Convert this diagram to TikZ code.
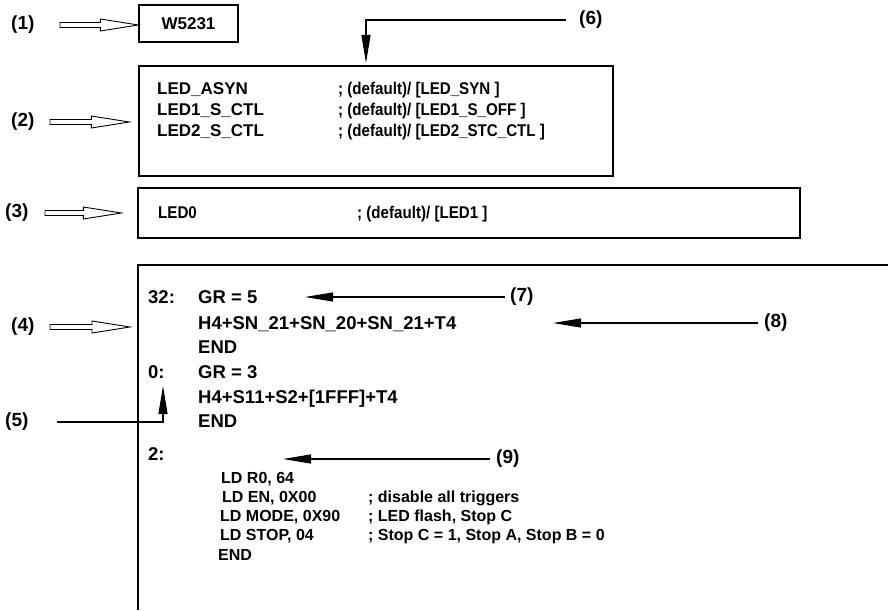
\documentclass[tikz,border=0pt]{standalone}
\usepackage{fontspec}
\setmainfont{Liberation Sans}
\newfontfamily\condensed[FakeStretch=0.89]{Liberation Sans}
\usetikzlibrary{arrows.meta,calc}

\newcommand{\dflt}{; (default)/ }
% hollow block arrow, horizontal, from tail #1 to tip #2
\newcommand{\openarrow}[2]{%
  \draw[line width=0.9pt, fill=white, line join=miter] let \p1=(#1), \p2=(#2) in
    (\x1,\y1+2.5pt) -- (\x2-38pt,\y1+2.5pt) -- (\x2-38pt,\y1+6pt) -- (\x2,\y1)
    -- (\x2-38pt,\y1-6pt) -- (\x2-38pt,\y1-2.5pt) -- (\x1,\y1-2.5pt) -- cycle;}

\begin{document}
\begin{tikzpicture}[x=1pt, y=-1pt, font=\fontsize{16}{19}\selectfont\bfseries,
  txt/.style={anchor=base west, inner sep=0pt},
  lbl/.style={anchor=west, inner sep=0pt, font=\fontsize{19}{22}\selectfont\bfseries},
  big/.style={font=\fontsize{18.5}{22}\selectfont\bfseries},
  key/.style={font=\fontsize{17}{20}\selectfont\bfseries},
  cond/.style={font=\condensed\fontsize{17}{20}\selectfont\bfseries},
  box/.style={draw, line width=1.3pt},
  pointer/.style={line width=1.1pt, -{Triangle[length=28pt,width=9pt]}}]
  \useasboundingbox (0,0) rectangle (888,610);

  % boxes
  \node[box, key, minimum width=99pt, minimum height=37pt] (w5231) at (188.5,23.5) {W5231};
  \node[box, minimum width=474pt, minimum height=110pt] (box2) at (376,121) {};
  \node[box, minimum width=662pt, minimum height=50pt] (box3) at (469,213) {};
  \coordinate (box4) at (138,265);
  \draw[box] (888,265) -- (box4) -- (138,610);

  % box 2 and 3 contents
  \foreach \y/\k/\c in {94/{LED\_ASYN}/{\dflt[LED\_SYN ]},
                        115/{LED1\_S\_CTL}/{\dflt[LED1\_S\_OFF ]},
                        136/{LED2\_S\_CTL}/{\dflt[LED2\_STC\_CTL ]}} {
    \node[txt, key] (k\y) at (157,\y) {\k};
    \node[txt, cond] (c\y) at (338,\y) {\c};
  }
  \node[txt, cond] (led0) at (158,218.5) {LED0};
  \node[txt, cond] (c218) at (357,218.5) {\dflt[LED1 ]};

  % box 4 contents
  \node[txt, big] (l32) at (148,303.5) {32:};
  \node[txt, big] (gr5) at (198,303.5) {GR = 5};
  \node[txt, big] (seq1) at (198,329.5) {H4+SN\_21+SN\_20+SN\_21+T4};
  \node[txt, big] (end1) at (198,353.5) {END};
  \node[txt, big] (l0) at (148,378.5) {0:};
  \node[txt, big] (gr3) at (198,378.5) {GR = 3};
  \node[txt, big] (seq2) at (198,403.5) {H4+S11+S2+[1FFF]+T4};
  \node[txt, big] (end2) at (198,427.5) {END};
  \node[txt, big] (l2) at (148,460.5) {2:};
  \foreach \x/\y/\t in {221/483/{LD R0, 64}, 222/502/{LD EN, 0X00},
                        220/521/{LD MODE, 0X90}, 220/540/{LD STOP, 04}, 218/560/END}
    \node[txt] (ld\y) at (\x,\y) {\t};
  \foreach \y/\t in {502/{; disable all triggers}, 521/{; LED flash, Stop C},
                     540/{; Stop C = 1, Stop A, Stop B = 0}}
    \node[txt] (cm\y) at (368,\y) {\t};

  % numbered callouts
  \node[lbl] (n1) at (11,25) {(1)};
  \node[lbl] (n2) at (11,122) {(2)};
  \node[lbl] (n3) at (5,213) {(3)};
  \node[lbl] (n4) at (11,327) {(4)};
  \node[lbl] (n5) at (5,422) {(5)};
  \node[lbl] (n6) at (579,20) {(6)};
  \node[lbl] (n7) at (510,297) {(7)};
  \node[lbl] (n8) at (764,323) {(8)};
  \node[lbl] (n9) at (496,459) {(9)};

  \openarrow{[xshift=49pt]n1.west}{w5231.west}
  \openarrow{[xshift=39pt]n2.west}{[xshift=-9pt]box2.west}
  \openarrow{[xshift=40pt]n3.west}{[xshift=-16pt]box3.west}
  \openarrow{[xshift=39pt]n4.west}{[xshift=-8pt]box4}

  \coordinate (tip5) at (163,386);
  \coordinate (tip6) at (366,63);
  \coordinate (tip7) at (305,297);
  \coordinate (tip8) at (553,323);
  \coordinate (tip9) at (283,459);
  \draw[pointer] ([xshift=52pt]n5.west) -| (tip5);
  \draw[pointer] ([xshift=-13pt]n6.west) -| (tip6);
  \draw[pointer] ([xshift=-5pt]n7.west) -- (tip7);
  \draw[pointer] ([xshift=-6pt]n8.west) -- (tip8);
  \draw[pointer] ([xshift=-6pt]n9.west) -- (tip9);
\end{tikzpicture}
\end{document}
